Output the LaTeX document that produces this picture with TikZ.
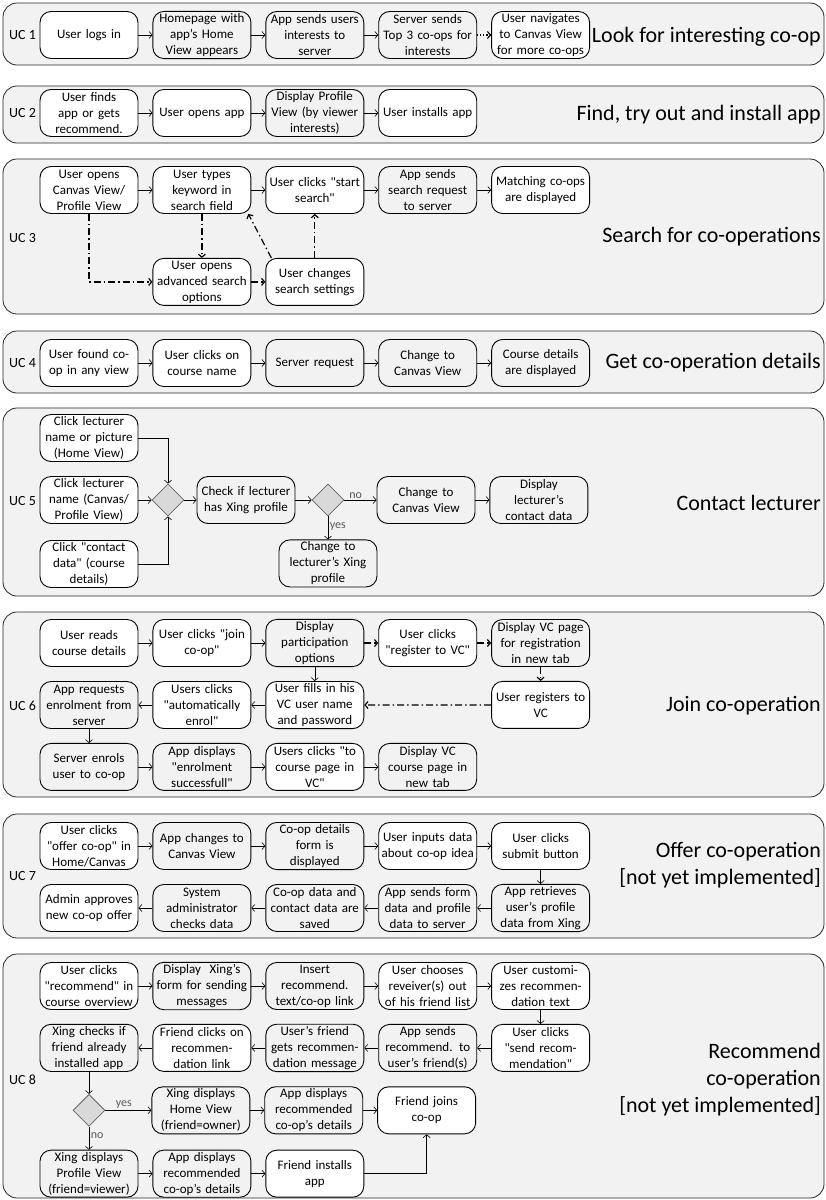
\documentclass[tikz,border=0pt]{standalone}
\usepackage{fontspec}
\setmainfont{Carlito}[Ligatures=TeXReset]
\usepackage{tikz}
\usetikzlibrary{positioning, arrows.meta, shapes.geometric}

\definecolor{panelgray}{RGB}{242,242,242}
\definecolor{diagray}{RGB}{217,217,217}
\definecolor{labelgray}{RGB}{89,89,89}

\begin{document}
\begin{tikzpicture}[
    x=1pt, y=-1pt,
    >={Straight Barb[length=3pt,width=7pt]},
    node distance=14pt,
    panel/.style={
        draw=black!85,
        line width=0.8pt,
        fill=panelgray,
        rounded corners=14pt,
    },
    act/.style={
        draw,
        line width=0.9pt,
        fill=white,
        rounded corners=11pt,
        minimum width=98pt,
        minimum height=47pt,
        text width=94pt,
        inner sep=2pt,
        align=center,
        font=\fontsize{13}{16}\selectfont,
    },
    sys/.style={act, fill=panelgray},
    decision/.style={
        diamond,
        draw=black!60,
        fill=diagray,
        line width=0.8pt,
        minimum width=32pt,
        minimum height=32pt,
        inner sep=0pt,
    },
    uc label/.style={font=\fontsize{14}{17}\selectfont, anchor=west, inner sep=0pt},
    uc title/.style={font=\fontsize{22}{27}\selectfont, anchor=east, align=right, inner sep=0pt},
    flow/.style={->, line width=0.6pt},
    optional/.style={->, line width=1.2pt, dash pattern=on 7pt off 3pt on 1.5pt off 3pt},
    hint/.style={->, line width=1.1pt, dotted},
    guard/.style={font=\fontsize{12}{14}\selectfont, text=labelgray, inner sep=1.5pt},
]

\useasboundingbox (0,0) rectangle (826,1200);

% --- Panels ---
\draw[panel] (3,3) rectangle (824,65);
\draw[panel] (3,86) rectangle (824,143);
\draw[panel] (3,159) rectangle (824,314);
\draw[panel] (3,331) rectangle (824,393);
\draw[panel] (3,408) rectangle (824,596);
\draw[panel] (3,612) rectangle (824,797);
\draw[panel] (3,814) rectangle (824,938);
\draw[panel] (3,954) rectangle (824,1198);

% --- UC 1: Look for interesting co-op ---
\node[uc label] (uc1) at (9,35) {UC 1};
\node[act] (login) at (89,35) {User logs in};
\node[sys, right=of login] (homeview) {Homepage with\\app’s Home\\View appears};
\node[sys, right=of homeview] (sendint) {App sends users\\interests to\\server};
\node[sys, right=of sendint] (topthree) {Server sends\\Top 3 co-ops for\\interests};
\node[act, right=of topthree] (navigate) {User navigates\\to Canvas View\\for more co-ops};
\node[uc title] (title1) at (821,37) {Look for interesting co-op};

\draw[flow] (login) -- (homeview);
\draw[flow] (homeview) -- (sendint);
\draw[flow] (sendint) -- (topthree);
\draw[hint] (topthree) -- (navigate);

% --- UC 2: Find, try out and install app ---
\node[uc label] (uc2) at (9,113) {UC 2};
\node[act] (findapp) at (89,113) {User finds\\app or gets\\recommend.};
\node[act, right=of findapp] (openapp) {User opens app};
\node[sys, right=of openapp] (profileview) {Display Profile\\View (by viewer\\interests)};
\node[act, right=of profileview] (installapp) {User installs app};
\node[uc title] (title2) at (821,115) {Find, try out and install app};

\draw[flow] (findapp) -- (openapp);
\draw[flow] (openapp) -- (profileview);
\draw[flow] (profileview) -- (installapp);

% --- UC 3: Search for co-operations ---
\node[uc label] (uc3) at (9,238) {UC 3};
\node[act] (opencanvas) at (89,190) {User opens\\Canvas View/\\Profile View};
\node[act, right=of opencanvas] (keyword) {User types\\keyword in\\search field};
\node[act, right=of keyword] (startsearch) {User clicks "start\\search"};
\node[sys, right=of startsearch] (searchreq) {App sends\\search request\\to server};
\node[act, right=of searchreq] (matching) {Matching co-ops\\are displayed};
\node[act, below=44pt of keyword] (advanced) {User opens\\advanced search\\options};
\node[act, right=of advanced] (settings) {User changes\\search settings};
\node[uc title] (title3) at (821,237) {Search for co-operations};

\draw[flow] (opencanvas) -- (keyword);
\draw[flow] (keyword) -- (startsearch);
\draw[flow] (startsearch) -- (searchreq);
\draw[flow] (searchreq) -- (matching);
\draw[optional] (opencanvas.south) |- (advanced.west);
\draw[optional] (keyword) -- (advanced);
\draw[optional] (advanced) -- (settings);
\draw[optional] (settings) -- (startsearch);
\draw[optional] ([xshift=6pt]settings.north west) -- ([xshift=-3pt]keyword.south east);

% --- UC 4: Get co-operation details ---
\node[uc label] (uc4) at (9,363) {UC 4};
\node[act] (foundcoop) at (89,363) {User found co-\\op in any view};
\node[act, right=of foundcoop] (coursename) {User clicks on\\course name};
\node[sys, right=of coursename] (serverreq) {Server request};
\node[sys, right=of serverreq] (canvasfour) {Change to\\Canvas View};
\node[sys, right=of canvasfour] (details) {Course details\\are displayed};
\node[uc title] (title4) at (821,363) {Get co-operation details};

\draw[flow] (foundcoop) -- (coursename);
\draw[flow] (coursename) -- (serverreq);
\draw[flow] (serverreq) -- (canvasfour);
\draw[flow] (canvasfour) -- (details);

% --- UC 5: Contact lecturer ---
\node[uc label] (uc5) at (9,501) {UC 5};
\node[act] (lecthome) at (89,438) {Click lecturer\\name or picture\\(Home View)};
\node[act] (lectcanvas) at (89,500) {Click lecturer\\name (Canvas/\\Profile View)};
\node[act] (lectdata) at (89,564) {Click "contact\\data" (course\\details)};
\node[decision] (merge) at (168,500) {};
\node[sys] (checkxing) at (246,500) {Check if lecturer\\has Xing profile};
\node[decision] (hasxing) at (328,500) {};
\node[sys] (canvasfive) at (426,500) {Change to\\Canvas View};
\node[sys, right=of canvasfive] (contactdata) {Display\\lecturer’s\\contact data};
\node[sys, below=23pt of hasxing] (xingprofile) {Change to\\lecturer’s Xing\\profile};
\node[uc title] (title5) at (821,503) {Contact lecturer};

\draw[flow] (lecthome.east) -| (merge.north);
\draw[flow] (lectcanvas) -- (merge);
\draw[flow] (lectdata.east) -| (merge.south);
\draw[flow] (merge) -- (checkxing);
\draw[flow] (checkxing) -- (hasxing);
\draw[flow] (hasxing) -- node[guard, above, pos=0.35] {no} (canvasfive);
\draw[flow] (hasxing) -- node[guard, right, pos=0.45] {yes} (xingprofile);
\draw[flow] (canvasfive) -- (contactdata);

% --- UC 6: Join co-operation ---
\node[uc label] (uc6) at (9,706) {UC 6};
\node[act] (readdetails) at (89,643) {User reads\\course details};
\node[act, right=of readdetails] (joincoop) {User clicks "join\\co-op"};
\node[sys, right=of joincoop] (partopts) {Display\\participation\\options};
\node[act, right=of partopts] (registervc) {User clicks\\"register to VC"};
\node[sys, right=of registervc] (vcpage) {Display VC page\\for registration\\in new tab};
\node[act, below=of partopts] (fillvc) {User fills in his\\VC user name\\and password};
\node[act, left=of fillvc] (autoenrol) {Users clicks\\"automatically\\enrol"};
\node[sys, left=of autoenrol] (enrolreq) {App requests\\enrolment from\\server};
\node[act, below=of vcpage] (registers) {User registers to\\VC};
\node[sys, below=of enrolreq] (serverenrol) {Server enrols\\user to co-op};
\node[sys, right=of serverenrol] (enrolok) {App displays\\"enrolment\\successfull"};
\node[act, right=of enrolok] (coursepage) {Users clicks "to\\course page in\\VC"};
\node[sys, right=of coursepage] (vccourse) {Display VC\\course page in\\new tab};
\node[uc title] (title6) at (821,706) {Join co-operation};

\draw[flow] (readdetails) -- (joincoop);
\draw[flow] (joincoop) -- (partopts);
\draw[optional] (partopts) -- (registervc);
\draw[optional] (registervc) -- (vcpage);
\draw[optional] (vcpage) -- (registers);
\draw[optional] (registers) -- (fillvc);
\draw[flow] (partopts) -- (fillvc);
\draw[flow] (fillvc) -- (autoenrol);
\draw[flow] (autoenrol) -- (enrolreq);
\draw[flow] (enrolreq) -- (serverenrol);
\draw[flow] (serverenrol) -- (enrolok);
\draw[flow] (enrolok) -- (coursepage);
\draw[flow] (coursepage) -- (vccourse);

% --- UC 7: Offer co-operation ---
\node[uc label] (uc7) at (9,876) {UC 7};
\node[act] (offercoop) at (89,846) {User clicks\\"offer co-op" in\\Home/Canvas};
\node[sys, right=of offercoop] (canvasseven) {App changes to\\Canvas View};
\node[sys, right=of canvasseven] (detailsform) {Co-op details\\form is\\displayed};
\node[act, right=of detailsform] (inputdata) {User inputs data\\about co-op idea};
\node[act, right=of inputdata] (submit) {User clicks\\submit button};
\node[sys, below=of submit] (retrieve) {App retrieves\\user’s profile\\data from Xing};
\node[sys, left=of retrieve] (sendform) {App sends form\\data and profile\\data to server};
\node[sys, left=of sendform] (saved) {Co-op data and\\contact data are\\saved};
\node[sys, left=of saved] (admincheck) {System\\administrator\\checks data};
\node[act, left=of admincheck] (approve) {Admin approves\\new co-op offer};
\node[uc title] (title7) at (821,865) {Offer co-operation\\{[not yet implemented]}};

\draw[flow] (offercoop) -- (canvasseven);
\draw[flow] (canvasseven) -- (detailsform);
\draw[flow] (detailsform) -- (inputdata);
\draw[flow] (inputdata) -- (submit);
\draw[flow] (submit) -- (retrieve);
\draw[flow] (retrieve) -- (sendform);
\draw[flow] (sendform) -- (saved);
\draw[flow] (saved) -- (admincheck);
\draw[flow] (admincheck) -- (approve);

% --- UC 8: Recommend co-operation ---
\node[uc label] (uc8) at (9,1080) {UC 8};
\node[act] (recommend) at (89,986) {User clicks\\"recommend" in\\course overview};
\node[sys, right=of recommend] (xingform) {Display~ Xing’s\\form for sending\\messages};
\node[sys, right=of xingform] (insertlink) {Insert\\recommend.\\text/co-op link};
\node[act, right=of insertlink] (receivers) {User chooses\\reveiver(s) out\\of his friend list};
\node[act, right=of receivers] (customize) {User customi-\\zes recommen-\\dation text};
\node[act, below=of customize] (sendrec) {User clicks\\"send recom-\\mendation"};
\node[sys, left=of sendrec] (appsends) {App sends\\recommend. to\\user’s friend(s)};
\node[sys, left=of appsends] (friendgets) {User’s friend\\gets recommen-\\dation message};
\node[act, left=of friendgets] (friendclicks) {Friend clicks on\\recommen-\\dation link};
\node[sys, left=of friendclicks] (xingcheck) {Xing checks if\\friend already\\installed app};
\node[decision, below=22pt of xingcheck] (installed) {};
\node[sys, right=46pt of installed] (homeowner) {Xing displays\\Home View\\(friend=owner)};
\node[sys, right=of homeowner] (recdetails) {App displays\\recommended\\co-op’s details};
\node[act, right=of recdetails] (joins) {Friend joins\\co-op};
\node[sys, below=23pt of installed] (profileviewer) {Xing displays\\Profile View\\(friend=viewer)};
\node[sys, right=of profileviewer] (recdetailstwo) {App displays\\recommended\\co-op’s details};
\node[act, right=of recdetailstwo] (installs) {Friend installs\\app};
\node[uc title] (title8) at (821,1080) {Recommend\\co-operation\\{[not yet implemented]}};

\draw[flow] (recommend) -- (xingform);
\draw[flow] (xingform) -- (insertlink);
\draw[flow] (insertlink) -- (receivers);
\draw[flow] (receivers) -- (customize);
\draw[flow] (customize) -- (sendrec);
\draw[flow] (sendrec) -- (appsends);
\draw[flow] (appsends) -- (friendgets);
\draw[flow] (friendgets) -- (friendclicks);
\draw[flow] (friendclicks) -- (xingcheck);
\draw[flow] (xingcheck) -- (installed);
\draw[flow] (installed) -- node[guard, above, pos=0.4] {yes} (homeowner);
\draw[flow] (installed) -- node[guard, right, pos=0.4] {no} (profileviewer);
\draw[flow] (homeowner) -- (recdetails);
\draw[flow] (recdetails) -- (joins);
\draw[flow] (profileviewer) -- (recdetailstwo);
\draw[flow] (recdetailstwo) -- (installs);
\draw[flow] (installs.east) -| (joins.south);

\end{tikzpicture}
\end{document}
